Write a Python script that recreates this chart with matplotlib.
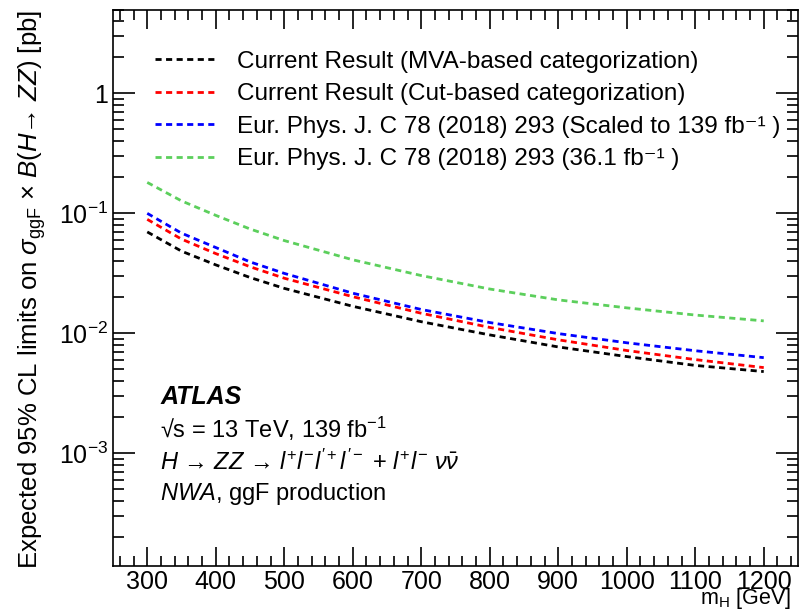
import numpy as np
import matplotlib
matplotlib.use("Agg")
import matplotlib.pyplot as plt
from matplotlib.ticker import FixedLocator, LogLocator, FuncFormatter, MultipleLocator

plt.rcParams['font.family'] = ['Liberation Sans', 'DejaVu Sans']
plt.rcParams['mathtext.fontset'] = 'custom'
plt.rcParams['mathtext.rm'] = 'Liberation Sans'
plt.rcParams['mathtext.it'] = 'Liberation Sans:italic'
plt.rcParams['mathtext.bf'] = 'Liberation Sans:bold'

# signal mass points [GeV]
mass = [300, 350, 400, 450, 500, 600, 700, 800, 900, 1000, 1100, 1200]

# expected limits [pb]
mva_based = [0.0700, 0.0484, 0.0372, 0.0292, 0.0237, 0.0168, 0.0125, 0.0097, 0.0077, 0.0064, 0.0054, 0.0048]
cut_based = [0.0891, 0.0610, 0.0462, 0.0359, 0.0288, 0.0202, 0.0147, 0.0112, 0.00883, 0.00719, 0.00604, 0.00518]
prev_scaled = [0.100, 0.0684, 0.0519, 0.0394, 0.0316, 0.0216, 0.0158, 0.0123, 0.00995, 0.00834, 0.00716, 0.00627]
prev_36fb = [0.181, 0.127, 0.0962, 0.0741, 0.0593, 0.0410, 0.0303, 0.0234, 0.0190, 0.0163, 0.0142, 0.0127]

labels = ['Current Result (MVA-based categorization)',
          'Current Result (Cut-based categorization)',
          'Eur. Phys. J. C 78 (2018) 293 (Scaled to 139 fb\u207b\u00b9 )',
          'Eur. Phys. J. C 78 (2018) 293 (36.1 fb\u207b\u00b9 )']
colors = ['black', '#ff0000', '#0000ff', '#5ccf5c']

fig = plt.figure(figsize=(8.02, 6.12), dpi=100)
ax = fig.add_axes([113 / 802, 1 - 566 / 612, (798 - 113) / 802, (566 - 9.5) / 612])

for ys, lab, c in zip([mva_based, cut_based, prev_scaled, prev_36fb], labels, colors):
    ax.plot(mass, ys, color=c, lw=2, dashes=(2.2, 1.6), label=lab)

ax.set_yscale('log')
ax.set_xlim(250, 1250)
ax.set_ylim(1.15e-4, 5)

ax.xaxis.set_major_locator(MultipleLocator(100))
ax.xaxis.set_minor_locator(MultipleLocator(20))
ax.xaxis.set_major_formatter(FuncFormatter(lambda v, p: '%d' % v if 300 <= v <= 1200 else ''))
ax.yaxis.set_major_locator(FixedLocator([1e-3, 1e-2, 1e-1, 1]))
ax.yaxis.set_minor_locator(LogLocator(base=10, subs=np.arange(2, 10)))


def ylab(v, p):
    if abs(v - 1) < 1e-9:
        return '1'
    return r'$10^{%d}$' % round(np.log10(v))


ax.yaxis.set_major_formatter(FuncFormatter(ylab))
ax.yaxis.set_minor_formatter(FuncFormatter(lambda v, p: ''))

ax.tick_params(which='both', direction='in', top=True, right=True, labelsize=18, width=1.2)
ax.tick_params(which='major', length=16)
ax.tick_params(which='minor', length=8)
ax.tick_params(axis='x', which='major', length=14, pad=3)
ax.tick_params(axis='x', which='minor', length=7)
for s in ax.spines.values():
    s.set_linewidth(1.2)

ax.set_xlabel(r'm$_{\rm H}$ [GeV]', fontsize=15.5, ha='right', va='bottom')
ax.xaxis.set_label_coords(0.99, -0.0805)
ax.set_ylabel(r'Expected 95% CL limits on $\sigma_{\rm ggF}$ $\times$ $B$($H$→ $ZZ$) [pb]',
              fontsize=18.5, loc='top', va='center')
ax.yaxis.set_label_coords(-0.118, 1.0)

ax.legend(loc='upper left', bbox_to_anchor=(0.0613, 0.926), frameon=False, fontsize=17.5,
          handlelength=2.6, handletextpad=0.78, labelspacing=0.43, borderaxespad=0, borderpad=0)

tx = 0.069
ax.text(tx, 0.304, 'ATLAS', transform=ax.transAxes, fontsize=18, fontweight='bold', fontstyle='italic', va='center')
ax.text(tx, 0.247, '\u221as = 13 TeV, 139 fb$^{-1}$', transform=ax.transAxes, fontsize=17, va='center')
ax.text(tx, 0.187, r'$H$ → $ZZ$ → $l^{+}l^{-}l^{\prime +}l^{\prime -}$ + $l^{+}l^{-}$ $\nu\bar{\nu}$',
        transform=ax.transAxes, fontsize=17, va='center')
ax.text(tx, 0.130, r'$NWA$, ggF production', transform=ax.transAxes, fontsize=17, va='center')

fig.savefig('out.png', dpi=100)
